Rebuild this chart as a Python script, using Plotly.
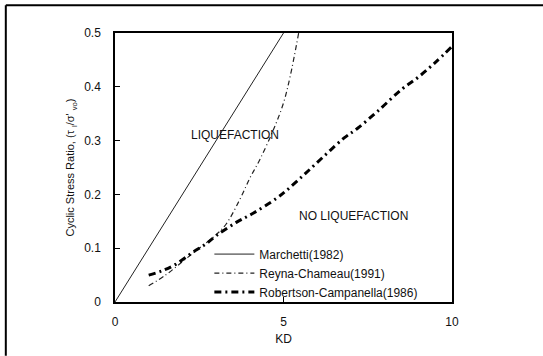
import plotly.graph_objects as go

# Criteria curves: cyclic stress ratio versus horizontal stress index KD
marchetti_kd = [0.0, 5.0]
marchetti_csr = [0.0, 0.5]

reyna_kd = [1.0, 1.5, 2.0, 2.5, 3.0, 3.3, 3.7, 4.0, 4.3, 4.7, 5.0, 5.2, 5.45]
reyna_csr = [0.03, 0.05, 0.075, 0.10, 0.125, 0.145, 0.19, 0.23, 0.265, 0.32, 0.37, 0.42, 0.5]

robertson_kd = [1.0, 1.4, 1.8, 2.3, 2.7, 3.0, 3.6, 4.1, 4.8, 5.1, 5.6, 6.2, 6.8, 7.2,
                7.8, 8.5, 9.0, 9.5, 10.0]
robertson_csr = [0.05, 0.058, 0.07, 0.092, 0.108, 0.123, 0.148, 0.165, 0.193, 0.208,
                 0.236, 0.271, 0.305, 0.323, 0.355, 0.395, 0.418, 0.445, 0.475]

x_ticks = [0, 5, 10]
y_ticks = [0, 0.1, 0.2, 0.3, 0.4, 0.5]

FONT = "Liberation Sans, Arial, sans-serif"
INK = "#111111"

fig = go.Figure()
fig.add_trace(go.Scatter(
    x=marchetti_kd, y=marchetti_csr, mode="lines", name="Marchetti(1982)",
    line=dict(color="#222222", width=1),
))
fig.add_trace(go.Scatter(
    x=reyna_kd, y=reyna_csr, mode="lines", name="Reyna-Chameau(1991)",
    line=dict(color="#222222", width=1.2, dash="5px,3px,1px,3px"),
    line_shape="spline",
))
fig.add_trace(go.Scatter(
    x=robertson_kd, y=robertson_csr, mode="lines", name="Robertson-Campanella(1986)",
    line=dict(color="#000000", width=3, dash="7px,4px,2px,4px"),
    line_shape="spline",
))

fig.add_annotation(x=3.56, y=0.31, text="LIQUEFACTION", showarrow=False,
                   font=dict(family=FONT, size=12, color=INK))
fig.add_annotation(x=7.09, y=0.16, text="NO LIQUEFACTION", showarrow=False,
                   font=dict(family=FONT, size=12, color=INK))

# Outer frame of the figure (left and top edges)
fig.add_shape(type="line", xref="paper", yref="paper",
              x0=-0.324, x1=-0.324, y0=1.103, y1=-0.2,
              line=dict(color="#000000", width=2))
fig.add_shape(type="line", xref="paper", yref="paper",
              x0=-0.324, x1=1.3, y0=1.103, y1=1.103,
              line=dict(color="#000000", width=2))

fig.update_layout(
    width=543, height=356,
    margin=dict(l=115, r=91, t=33, b=52),
    paper_bgcolor="white", plot_bgcolor="white",
    font=dict(family=FONT, size=12, color=INK),
    showlegend=True,
    legend=dict(
        x=0.28, y=0.232, xanchor="left", yanchor="top",
        bgcolor="rgba(0,0,0,0)", borderwidth=0,
        font=dict(family=FONT, size=12, color=INK),
        tracegroupgap=0, itemwidth=40,
    ),
)
fig.update_xaxes(
    range=[0, 10], tickvals=x_ticks, ticks="inside", ticklen=5, tickwidth=1,
    tickcolor="#000", showline=True, linecolor="#000", linewidth=1.5, mirror=True,
    showgrid=False, zeroline=False, ticklabelstandoff=8,
    title=dict(text="KD", standoff=6, font=dict(family=FONT, size=12, color=INK)),
)
fig.update_yaxes(
    range=[0, 0.5], tickvals=y_ticks, ticks="inside", ticklen=5, tickwidth=1,
    tickcolor="#000", showline=True, linecolor="#000", linewidth=1.5, mirror=True,
    showgrid=False, zeroline=False, ticklabelstandoff=10,
    title=dict(text="Cyclic Stress Ratio, (τ <sub>l</sub>/σ' <sub>vo</sub>)", standoff=7,
               font=dict(family=FONT, size=11, color=INK)),
)

fig.write_html("out.html")
